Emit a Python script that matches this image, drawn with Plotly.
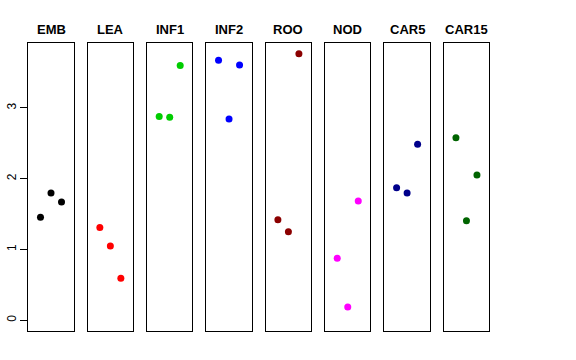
import plotly.graph_objects as go

categories = ["EMB", "LEA", "INF1", "INF2", "ROO", "NOD", "CAR5", "CAR15"]
colors = ["#000000", "#FF0000", "#00CD00", "#0000FF", "#8B0000", "#FF00FF", "#00008B", "#006400"]
replicate = [1, 2, 3]
emb = [1.455, 1.80, 1.67]
lea = [1.31, 1.05, 0.593]
inf1 = [2.88, 2.867, 3.60]
inf2 = [3.672, 2.843, 3.606]
roo = [1.421, 1.252, 3.766]
nod = [0.876, 0.188, 1.685]
car5 = [1.873, 1.798, 2.486]
car15 = [2.579, 1.407, 2.052]
series = [emb, lea, inf1, inf2, roo, nod, car5, car15]
y_ticks = [0, 1, 2, 3]

W, H = 576, 360
left0, pw, step = 28.3, 45.4, 59.35
top_px, bot_px = 43, 331
ymax = max(max(s) for s in series)
pad = 0.04 * ymax
yr = [-pad, ymax + pad]
xr = [-0.16, 4.16]

fig = go.Figure()
layout = dict(
    width=W, height=H, margin=dict(l=0, r=0, t=0, b=0, autoexpand=False),
    paper_bgcolor="white", plot_bgcolor="white", showlegend=False,
    font=dict(family="Liberation Sans, Arial, sans-serif", color="black", size=12),
)
annotations = []
for i, (cat, col, vals) in enumerate(zip(categories, colors, series)):
    n = "" if i == 0 else str(i + 1)
    x0 = (left0 + i * step) / W
    x1 = (left0 + i * step + pw) / W
    fig.add_trace(go.Scatter(
        x=replicate, y=vals, mode="markers",
        marker=dict(color=col, size=7, line=dict(width=0)),
        xaxis="x" + n, yaxis="y" + n, hoverinfo="skip",
    ))
    layout["xaxis" + n] = dict(
        domain=[x0, x1], range=xr, anchor="y" + n, automargin=False,
        showline=True, mirror=True, linecolor="black", linewidth=1,
        showgrid=False, zeroline=False, showticklabels=False, ticks="",
    )
    ya = dict(
        domain=[1 - bot_px / H, 1 - top_px / H], range=yr, anchor="x" + n,
        automargin=False,
        showline=True, mirror=True, linecolor="black", linewidth=1,
        showgrid=False, zeroline=False,
    )
    if i == 0:
        ya.update(ticks="outside", ticklen=7, tickcolor="black", tickwidth=1,
                  tickvals=y_ticks, ticktext=[str(t) for t in y_ticks],
                  tickangle=-90, tickfont=dict(size=12), showticklabels=True)
    else:
        ya.update(showticklabels=False, ticks="", matches="y")
    layout["yaxis" + n] = ya
    annotations.append(dict(
        text="<b>" + cat + "</b>", x=(x0 + x1) / 2, y=1 - 29.5 / H,
        xref="paper", yref="paper", xanchor="center", yanchor="middle",
        showarrow=False, font=dict(size=13, color="black"),
    ))
layout["annotations"] = annotations
fig.update_layout(**layout)
fig.write_html("out.html", config={"displayModeBar": False},
               post_script="document.body.style.margin='0';document.body.style.padding='0';")
